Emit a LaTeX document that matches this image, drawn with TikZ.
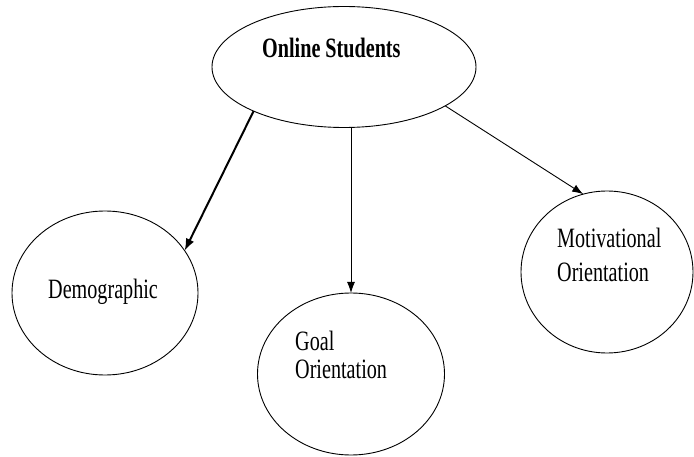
\documentclass[tikz,border=0pt]{standalone}
\usepackage{fontspec}
\setmainfont[FakeStretch=0.72]{Liberation Serif}
\usetikzlibrary{shapes.geometric,arrows.meta}
\begin{document}
\begin{tikzpicture}[x=1pt,y=-1pt,
  bubble/.style={draw,ellipse,line width=0.9pt,inner sep=0pt,outer sep=0pt},
  label/.style={inner sep=0pt,anchor=base west,font={\fontsize{28}{30}\selectfont}},
  link/.style={line width=0.9pt,-{Latex[length=11pt,width=8pt]}},
  boldlink/.style={line width=2pt,-{Latex[length=12pt,width=9pt]}}]
  \useasboundingbox (0,0) rectangle (694,457);

  % the four groups
  \node[bubble,minimum width=264pt,minimum height=121pt] (top) at (344,67) {};
  \node[bubble,minimum width=186pt,minimum height=164pt] (demo) at (105,293) {};
  \node[bubble,minimum width=187pt,minimum height=162pt] (goal) at (351,374) {};
  \node[bubble,minimum width=172pt,minimum height=162pt] (motiv) at (607,272) {};

  % captions, placed by baseline
  \node[label,font={\fontsize{28}{30}\selectfont\bfseries}] (toptext) at (262,58) {Online Students};
  \node[label] (demotext) at (48,299) {Demographic};
  \node[label] (goaltexta) at (295,350) {Goal};
  \node[label] (goaltextb) at (295,378) {Orientation};
  \node[label] (motivtexta) at (557,248) {Motivational};
  \node[label] (motivtextb) at (557,282) {Orientation};

  % connectors
  \draw[boldlink] (top.206.6) -- (demo.28.3);
  \draw[link] (goal.north |- top.south) -- (goal.north);
  \draw[link] (top.339.3) -- (motiv.107);
\end{tikzpicture}
\end{document}
